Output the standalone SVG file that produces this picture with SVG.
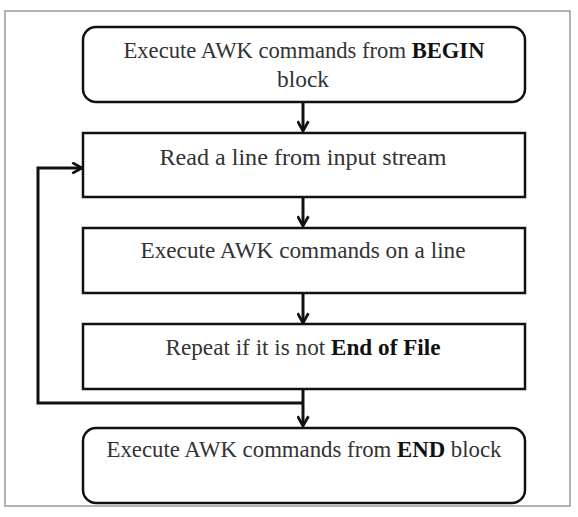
<svg xmlns="http://www.w3.org/2000/svg" width="578" height="517" viewBox="0 0 578 517">
<defs>
<style>
.frame{fill:#fff;stroke:#9a9a9a;stroke-width:1.5}
.box{fill:#fff;stroke:#111;stroke-width:2.5}
.t{font-family:"Liberation Serif","DejaVu Serif",serif;font-size:23px;fill:#333;text-anchor:middle}
.b{font-weight:bold;fill:#111}
.c{fill:none;stroke:#111;stroke-width:3;stroke-linejoin:miter}
</style>
<marker id="ah" viewBox="0 0 12 12" refX="11" refY="6" markerWidth="13" markerHeight="13" markerUnits="userSpaceOnUse" orient="auto">
<path d="M2,1 L11,6 L2,11" fill="none" stroke="#111" stroke-width="2.5"/>
</marker>
</defs>
<rect width="578" height="517" fill="#fff"/>
<rect class="frame" x="5" y="11" width="565" height="495"/>
<g id="connectors">
<line class="c" x1="303" y1="102" x2="303" y2="131" marker-end="url(#ah)"/>
<line class="c" x1="303" y1="197" x2="303" y2="226" marker-end="url(#ah)"/>
<line class="c" x1="303" y1="293" x2="303" y2="323" marker-end="url(#ah)"/>
<line class="c" x1="303" y1="389" x2="303" y2="426" marker-end="url(#ah)"/>
<polyline class="c" points="303,403 38,403 38,168 82,168" marker-end="url(#ah)"/>
</g>
<g id="n1">
<rect class="box" x="83" y="27" width="442" height="75" rx="13"/>
<text class="t" x="304" y="58" textLength="361" lengthAdjust="spacingAndGlyphs">Execute AWK commands from <tspan class="b">BEGIN</tspan></text>
<text class="t" x="303" y="87" textLength="52" lengthAdjust="spacingAndGlyphs">block</text>
</g>
<g id="n2">
<rect class="box" x="83" y="133" width="442" height="64"/>
<text class="t" x="303" y="165" textLength="287" lengthAdjust="spacingAndGlyphs">Read a line from input stream</text>
</g>
<g id="n3">
<rect class="box" x="83" y="228" width="442" height="65"/>
<text class="t" x="303" y="258" textLength="325" lengthAdjust="spacingAndGlyphs">Execute AWK commands on a line</text>
</g>
<g id="n4">
<rect class="box" x="83" y="324" width="442" height="65"/>
<text class="t" x="303" y="355" textLength="275" lengthAdjust="spacingAndGlyphs">Repeat if it is not <tspan class="b">End of File</tspan></text>
</g>
<g id="n5">
<rect class="box" x="83" y="428" width="442" height="75" rx="13"/>
<text class="t" x="304" y="457" textLength="395" lengthAdjust="spacingAndGlyphs">Execute AWK commands from <tspan class="b">END</tspan> block</text>
</g>
</svg>
